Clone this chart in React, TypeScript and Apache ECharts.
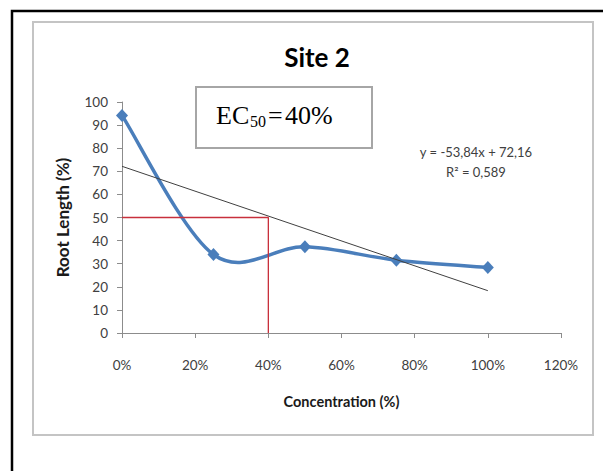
import React, { useEffect, useRef } from "react";
import * as echarts from "echarts";

// Data
const concentrations = [0, 0.25, 0.5, 0.75, 1.0];
const rootLength = [94.2, 34, 37.3, 31.5, 28.4];
const trendX = [0, 1];
const trendY = [72.16, 18.32];
const ec50LineX = [0, 0.4, 0.4];
const ec50LineY = [50, 50, 0];

const titleText = "Site 2";
const xAxisName = "Concentration (%)";
const yAxisName = "Root Length (%)";
const equationText = "y = -53,84x + 72,16";
const r2Text = "R² = 0,589";

const FONT = "Lato";
const BLUE = "#4a7ebb";

export default function App() {
  const ref = useRef<HTMLDivElement>(null);

  useEffect(() => {
    document.body.style.margin = "0";
    if (!ref.current) return;
    const chart = echarts.init(ref.current, null, { renderer: "svg" });

    const points = concentrations.map((x, i) => [x, rootLength[i]]);

    // Excel-like smoothed line (Catmull-Rom / Bezier) drawn through the axis scales
    const renderSmooth = (params: any, api: any) => {
      const i = params.dataIndex;
      const n = points.length;
      if (i >= n - 1) return null;
      const P = (k: number) => {
        const kk = Math.max(0, Math.min(n - 1, k));
        return api.coord(points[kk]);
      };
      const p0 = P(i - 1);
      const p1 = P(i);
      const p2 = P(i + 1);
      const p3 = P(i + 2);
      const t = 1 / 6;
      return {
        type: "bezierCurve",
        shape: {
          x1: p1[0],
          y1: p1[1],
          x2: p2[0],
          y2: p2[1],
          cpx1: p1[0] + (p2[0] - p0[0]) * t,
          cpy1: p1[1] + (p2[1] - p0[1]) * t,
          cpx2: p2[0] - (p3[0] - p1[0]) * t,
          cpy2: p2[1] - (p3[1] - p1[1]) * t,
        },
        style: { stroke: BLUE, lineWidth: 3.5, fill: "none", lineCap: "round" },
      };
    };

    const option: any = {
      animation: false,
      backgroundColor: "#ffffff",
      textStyle: { fontFamily: FONT },
      title: {
        text: titleText,
        left: 312,
        textAlign: "center",
        top: 39,
        textStyle: { fontFamily: FONT, fontWeight: "bold", fontSize: 26, color: "#000000" },
      },
      grid: { left: 122, right: 42, top: 102, bottom: 138, outerBoundsMode: "none" },
      xAxis: {
        type: "value",
        min: 0,
        max: 1.2,
        interval: 0.2,
        name: xAxisName,
        nameLocation: "middle",
        nameGap: 61,
        nameTextStyle: { fontFamily: FONT, fontWeight: "bold", fontSize: 14.5, color: "#1a1a1a" },
        axisLine: { show: true, lineStyle: { color: "#8c8c8c", width: 1 } },
        axisTick: { show: true, length: 5, lineStyle: { color: "#8c8c8c" } },
        splitLine: { show: false },
        axisLabel: {
          margin: 25,
          fontSize: 13.5,
          color: "#404040",
          fontFamily: FONT,
          formatter: (v: number) => Math.round(v * 100) + "%",
        },
      },
      yAxis: {
        type: "value",
        min: 0,
        max: 100,
        interval: 10,
        name: yAxisName,
        nameLocation: "middle",
        nameGap: 51,
        nameTextStyle: { fontFamily: FONT, fontWeight: "bold", fontSize: 17, color: "#1a1a1a" },
        axisLine: { show: true, lineStyle: { color: "#8c8c8c", width: 1 } },
        axisTick: { show: true, length: 5, lineStyle: { color: "#8c8c8c" } },
        splitLine: { show: false },
        axisLabel: { margin: 14, fontSize: 13.5, color: "#404040", fontFamily: FONT },
      },
      series: [
        {
          type: "custom",
          name: "Root length curve",
          data: points,
          renderItem: renderSmooth,
          encode: { x: 0, y: 1 },
          z: 2,
          silent: true,
        },
        {
          type: "scatter",
          name: "Root length",
          data: points,
          symbol: "diamond",
          symbolSize: [12, 13],
          itemStyle: { color: BLUE, opacity: 1 },
          z: 3,
        },
        {
          type: "line",
          name: "EC50",
          data: ec50LineX.map((x, i) => [x, ec50LineY[i]]),
          symbol: "none",
          lineStyle: { color: "#c8303c", width: 1.3 },
          z: 4,
        },
        {
          type: "line",
          name: "Trend",
          data: trendX.map((x, i) => [x, trendY[i]]),
          symbol: "none",
          lineStyle: { color: "#404040", width: 1 },
          z: 5,
        },
      ],
      graphic: [
        {
          type: "rect",
          z: -10,
          shape: { x: 12, y: 11, width: 620, height: 480 },
          style: { fill: "none", stroke: "#000000", lineWidth: 2.5 },
        },
        {
          type: "rect",
          z: -10,
          shape: { x: 33, y: 22, width: 560, height: 413 },
          style: { fill: "none", stroke: "#c4c4c4", lineWidth: 2 },
        },
        {
          type: "rect",
          shape: { x: 196, y: 87, width: 176, height: 61 },
          style: { fill: "#ffffff", stroke: "#a6a6a6", lineWidth: 2 },
        },
        {
          type: "text",
          x: 216,
          y: 115,
          style: { text: "EC", fontFamily: "Liberation Serif", fontSize: 26, fill: "#000000", verticalAlign: "middle" },
        },
        {
          type: "text",
          x: 250,
          y: 121,
          style: { text: "50", fontFamily: "Liberation Serif", fontSize: 16, fill: "#000000", verticalAlign: "middle" },
        },
        {
          type: "text",
          x: 268,
          y: 115,
          style: { text: "=", fontFamily: "Liberation Serif", fontSize: 26, fill: "#000000", verticalAlign: "middle" },
        },
        {
          type: "text",
          x: 285,
          y: 115,
          style: { text: "40%", fontFamily: "Liberation Serif", fontSize: 26, fill: "#000000", verticalAlign: "middle" },
        },
        {
          type: "text",
          x: 476,
          y: 152,
          style: { text: equationText, fontFamily: FONT, fontSize: 13, fill: "#404040", align: "center", verticalAlign: "middle" },
        },
        {
          type: "text",
          x: 476,
          y: 172,
          style: { text: r2Text, fontFamily: FONT, fontSize: 13, fill: "#404040", align: "center", verticalAlign: "middle" },
        },
      ],
    };

    chart.setOption(option);
    return () => chart.dispose();
  }, []);

  return <div ref={ref} style={{ width: 603, height: 471 }} />;
}
